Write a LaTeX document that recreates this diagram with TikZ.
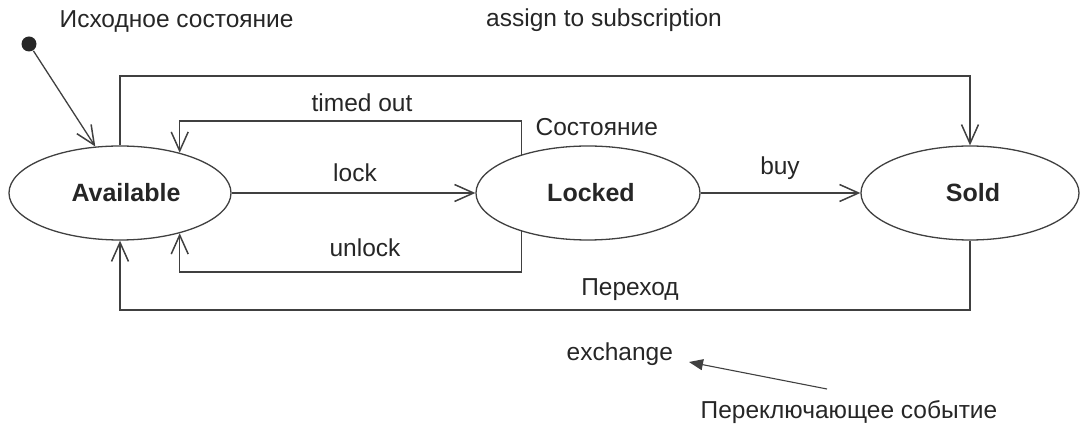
\documentclass[tikz,border=0pt]{standalone}
\usepackage{fontspec}
\setmainfont{Liberation Sans}
\usetikzlibrary{arrows.meta,shapes.geometric}
\begin{document}
\begin{tikzpicture}[x=1pt,y=-1pt,
  line width=1.3pt,
  conn/.style={draw=black!75},
  state/.style={ellipse, draw=black!75, minimum width=222pt, minimum height=94pt,
    inner sep=0pt, font=\fontsize{25}{30}\selectfont\bfseries, text=black!85},
  lbl/.style={font=\fontsize{24.5}{29}\selectfont, text=black!85, inner sep=0pt},
  arr/.style={conn, -{Straight Barb[length=19pt,width=17pt,line width=1.5pt]}},
  ptrarr/.style={conn, -{Triangle[length=14pt,width=11pt]}, line width=1.1pt},
]
\useasboundingbox (0,0) rectangle (1080,427);

% states
\node[state] (av) at (120,193) {\hspace{12pt}Available};
\node[state, minimum width=224pt] (lk) at (588,193) {\hspace{6pt}Locked};
\node[state, minimum width=218pt] (sd) at (970,193) {\hspace{6pt}Sold};

% initial pseudo-state
\node[circle, fill=black!85, minimum size=15pt, inner sep=0pt] (init) at (29,44) {};
\draw[arr] (init) -- (av.118);

% helper levels for the orthogonal transitions
\coordinate (topY) at (0,76);
\coordinate (toY)  at (0,121);
\coordinate (unY)  at (0,272);
\coordinate (botY) at (0,310);

% transitions
\draw[arr] (av.north) |- (sd.north |- topY) -- (sd.north);
\draw[arr] (lk.150) |- (av.34 |- toY) -- (av.34);
\draw[arr] (av) -- (lk);
\draw[arr] (lk) -- (sd);
\draw[arr] (lk.210) |- (av.-34 |- unY) -- (av.-34);
\draw[arr] (sd.south) |- (av.south |- botY) -- (av.south);

% labels
\node[lbl, anchor=west] (initlbl) at (59,22) {Исходное состояние};
\node[lbl] (asg) at (604,20) {assign to subscription};
\node[lbl] (tmo) at (362,103) {timed out};
\node[lbl, anchor=west] (stlbl) at (535,127) {Состояние};
\node[lbl] (lcklbl) at (355,173) {lock};
\node[lbl] (buylbl) at (780,168) {buy};
\node[lbl] (unlbl) at (365,248) {unlock};
\node[lbl] (trlbl) at (630,290) {Переход};
\node[lbl, anchor=west] (exch) at (566,354) {exchange};
\node[lbl, anchor=west] (swev) at (700,412) {Переключающее событие};

% pointer to the event name
\coordinate (ptr) at (827,389);
\coordinate (ptrend) at (689,362);
\draw[ptrarr] (ptr) -- (ptrend);
\end{tikzpicture}
\end{document}
